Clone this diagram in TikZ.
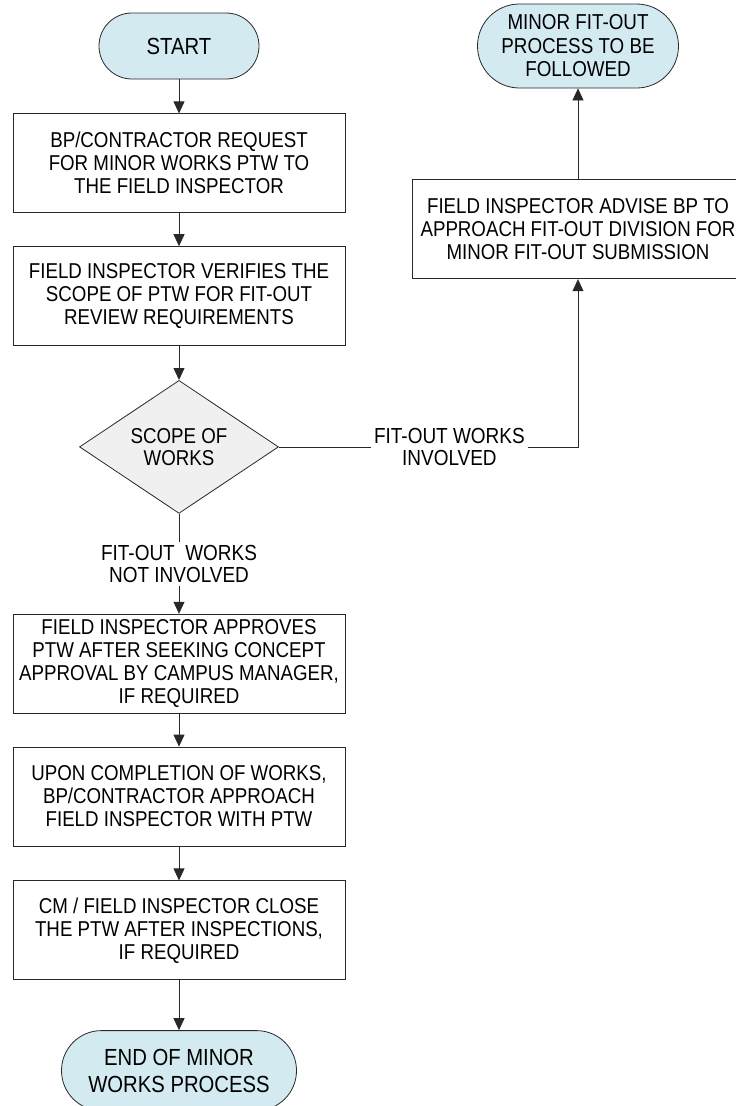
\documentclass[tikz,border=0pt]{standalone}
\usepackage{fontspec}
\setmainfont{Liberation Sans}[FakeStretch=0.87]
\usetikzlibrary{shapes.geometric,positioning,arrows.meta}
\definecolor{termfill}{RGB}{211,234,240}
\definecolor{decfill}{RGB}{240,240,240}
\definecolor{edge}{RGB}{40,40,40}

\begin{document}
\begin{tikzpicture}[x=1pt,y=1pt,
    proc/.style={rectangle, draw=edge, line width=0.8pt, minimum width=332pt, minimum height=99pt, inner sep=2pt, align=center, font=\fontsize{21.5}{23}\selectfont},
    term/.style={rectangle, draw=edge, fill=termfill, line width=0.8pt, inner sep=0pt, align=center},
    decision/.style={diamond, aspect=1.5, draw=edge, fill=decfill, line width=0.8pt, minimum width=199pt, minimum height=133pt, inner sep=0pt, align=center, font=\fontsize{21.5}{22}\selectfont},
    tag/.style={fill=white, inner sep=3pt, align=center, font=\fontsize{21.8}{22}\selectfont},
    flow/.style={draw=edge, line width=0.8pt, -{Triangle[width=11pt,length=12pt]}}]
    \useasboundingbox (0,0) rectangle (736,-1106);

    \node[term, minimum width=160pt, minimum height=66pt, rounded corners=32.9pt, font=\fontsize{23.3}{27}\selectfont] (start) at (179,-46) {START};
    \node[proc, below=34pt of start] (request) {BP/CONTRACTOR REQUEST\\FOR MINOR WORKS PTW TO\\THE FIELD INSPECTOR};
    \node[proc, below=33pt of request] (verify) {FIELD INSPECTOR VERIFIES THE\\SCOPE OF PTW FOR FIT-OUT\\REVIEW REQUIREMENTS};
    \node[decision, below=34pt of verify] (scope) {SCOPE OF\\WORKS};
    \node[proc, below=100pt of scope] (approve) {FIELD INSPECTOR APPROVES\\PTW AFTER SEEKING CONCEPT\\APPROVAL BY CAMPUS MANAGER,\\IF REQUIRED};
    \node[proc, below=33pt of approve] (complete) {UPON COMPLETION OF WORKS,\\BP/CONTRACTOR APPROACH\\FIELD INSPECTOR WITH PTW};
    \node[proc, below=34pt of complete] (close) {CM / FIELD INSPECTOR CLOSE\\THE PTW AFTER INSPECTIONS,\\IF REQUIRED};
    \node[term, below=50pt of close, minimum width=235pt, minimum height=80pt, rounded corners=39.9pt, font=\fontsize{23.3}{27}\selectfont] (finish) {END OF MINOR\\WORKS PROCESS};

    % fit-out branch
    \node[term, minimum width=201pt, minimum height=84pt, rounded corners=41.9pt, font=\fontsize{21.6}{23.5}\selectfont] (fitout) at (578,-46) {MINOR FIT-OUT\\PROCESS TO BE\\FOLLOWED};
    \node[proc, below=91pt of fitout] (advise) {FIELD INSPECTOR ADVISE BP TO\\APPROACH FIT-OUT DIVISION FOR\\MINOR FIT-OUT SUBMISSION};
    \coordinate (turn) at (advise.south |- scope.east);

    \draw[flow] (start) -- (request);
    \draw[flow] (request) -- (verify);
    \draw[flow] (verify) -- (scope);
    \draw[flow] (scope) -- node[tag] {FIT-OUT~ WORKS\\NOT INVOLVED} (approve);
    \draw[flow] (approve) -- (complete);
    \draw[flow] (complete) -- (close);
    \draw[flow] (close) -- (finish);

    \draw[flow] (scope.east) -- node[tag, pos=0.57] {FIT-OUT WORKS\\INVOLVED} (turn) -- (advise.south);
    \draw[flow] (advise) -- (fitout);
\end{tikzpicture}
\end{document}
